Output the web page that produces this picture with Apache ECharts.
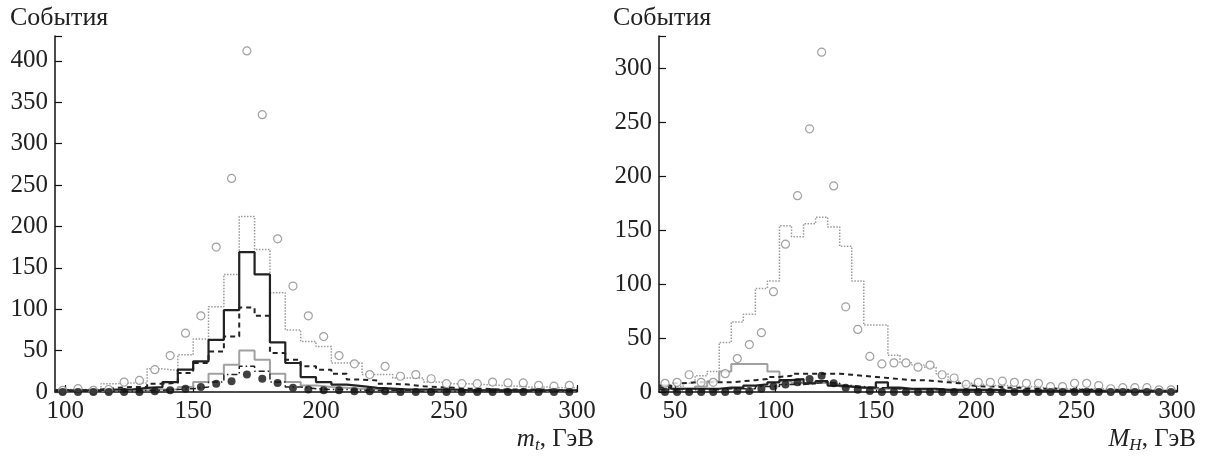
<!DOCTYPE html>
<html>
<head>
<meta charset="utf-8">
<script src="https://cdn.jsdelivr.net/npm/echarts@6/dist/echarts.min.js"></script>
<style>
  html, body { margin: 0; padding: 0; background: #fff; }
  #chart { width: 1205px; height: 456px; }
</style>
</head>
<body>
<div id="chart"></div>
<script>
// бины: левая панель m_t (96..300, шаг 6), правая M_H (42..300, шаг 6)
var binW = 6;
var leftStart = 96;
var rightStart = 42;
var xTicks = [100, 150, 200, 250, 300];
var xTicksRight = [50, 100, 150, 200, 250, 300];

// левая панель
var mtDotted = [3,3,3,10,11,11,28,26,45,64, 103,142,212,172,120,75,61,55,35,35, 21,21,17,17,12,10,10,9,8,7, 6,6,5,5];
var mtOpen   = [2,4,2,3,12,14,27,44,71,92, 175,258,412,335,185,128,92,67,44,34, 21,31,19,21,16,10,10,10,12,11, 11,8,7,8];
var mtSolid  = [2,2,2,3,3,5,6,12,27,37, 63,99,169,142,60,35,18,12,9,7, 5,4,3,3,3,3,2,2,2,2, 2,2,2,2];
var mtDashed = [2,2,3,5,6,6,10,11,23,35, 49,67,102,92,47,39,31,27,22,15, 14,10,9,7,6,5,4,4,3,3, 3,3,2,2];
var mtGray   = [1,1,1,2,2,2,3,3,6,12, 22,33,50,39,22,12,8,6,5,4, 3,3,3,2,2,2,2,2,2,2, 1,1,1,1];
var mtDashDot= [1,1,1,1,1,2,2,3,4,6, 12,21,31,25,12,6,4,3,3,2, 2,2,2,1,1,1,1,1,1,1, 1,1,1,1];
var mtFilled = [0,0,0,0,0,0,1,2,4,6, 10,13,21,16,11,5,3,2,2,1, 1,1,0,0,0,0,0,0,0,0, 0,0,0,0];

// правая панель
var mhDotted = [6,5,8,15,19,46,65,72,96,103, 154,144,156,162,153,135,103,62,62,34, 27,25,23,17,10,8,7,6,6,5, 5,4,4,3,3,3,3,2,2,2, 2,1,1];
var mhOpen   = [8,9,16,9,9,17,31,44,55,93, 137,182,244,315,191,79,58,33,26,27, 27,23,25,16,13,7,9,9,10,9, 8,8,5,5,8,8,6,3,4,4, 4,2,2];
var mhGray   = [3,3,3,5,10,19,26,26,26,19, 10,8,9,8,7,5,4,3,3,3, 2,2,2,2,2,2,1,1,1,1, 1,1,1,1,1,1,1,1,1,1, 1,1,1];
var mhDashed = [4,8,9,9,9,9,10,11,12,14, 15,17,17,17,17,16,15,14,13,12, 11,11,10,9,8,6,5,5,4,4, 3,3,3,2,2,2,2,2,2,1, 1,1,1];
var mhSolid  = [6,3,3,3,3,4,4,6,7,9, 11,12,8,10,6,5,4,4,9,4, 3,3,3,2,2,2,2,2,1,1, 1,1,1,1,1,1,1,1,1,1, 1,1,1];
var mhDashDot= [2,2,2,2,2,3,3,3,5,5, 7,7,8,9,8,6,5,4,4,3, 3,3,2,2,2,2,1,1,1,1, 1,1,1,1,1,1,1,1,1,1, 1,1,1];
var mhFilled = [0,0,0,0,0,0,1,1,3,5, 7,9,12,15,8,4,2,1,0,0, 0,0,0,0,0,0,0,0,0,0, 0,0,0,0,0,0,0,0,0,0, 0,0,0];

var font = '"Liberation Serif", "Times New Roman", serif';

// ступенчатая гистограмма: точки на границах бинов
function steps(start, vals) {
    var pts = vals.map(function (v, i) { return [start + i * binW, v]; });
    pts.push([start + vals.length * binW, vals[vals.length - 1]]);
    return pts;
}
// точки в центрах бинов
function centers(start, vals) {
    return vals.map(function (v, i) { return [start + binW / 2 + i * binW, v]; });
}

function xAxis(idx, min, ticks) {
    return {
        type: 'value', gridIndex: idx, min: min, max: 300,
        axisLine: { lineStyle: { color: '#111', width: 1.5 } },
        axisTick: { inside: true, length: 7, customValues: ticks, lineStyle: { color: '#111', width: 1.2 } },
        axisLabel: { customValues: ticks, color: '#222', fontFamily: font, fontSize: 25, margin: 7 },
        splitLine: { show: false }
    };
}
function yAxis(idx, max) {
    return {
        type: 'value', gridIndex: idx, min: 0, max: max, interval: 50,
        axisLine: { show: true, lineStyle: { color: '#111', width: 1.5 } },
        axisTick: { show: true, inside: true, length: 7, lineStyle: { color: '#111', width: 1.2 } },
        axisLabel: { color: '#222', fontFamily: font, fontSize: 25, margin: 7,
            formatter: function (v) { return v % 50 === 0 ? v : ''; } },
        splitLine: { show: false }
    };
}

function hist(idx, start, vals, color, width, type, z) {
    return {
        type: 'line', xAxisIndex: idx, yAxisIndex: idx, step: 'end',
        showSymbol: false, silent: true, z: z,
        lineStyle: { color: color, width: width, type: type },
        data: steps(start, vals)
    };
}
function marks(idx, start, vals, filled) {
    return {
        type: 'scatter', xAxisIndex: idx, yAxisIndex: idx, z: 10,
        symbol: 'circle', symbolSize: 8,
        itemStyle: filled ? { color: '#111' } : { color: '#fff', borderColor: '#8a8a8a', borderWidth: 1.2 },
        data: centers(start, vals)
    };
}

var titleStyle = { fontFamily: font, fontSize: 26, fontWeight: 'normal', color: '#222' };
var axisNameStyle = {
    fontFamily: font, fontSize: 25, fontWeight: 'normal', color: '#222',
    rich: {
        i: { fontFamily: font, fontSize: 25, fontStyle: 'italic', fontWeight: 'normal', color: '#222' },
        s: { fontFamily: font, fontSize: 17, fontStyle: 'italic', fontWeight: 'normal', color: '#222', padding: [12, 0, 0, 0] },
        n: { fontFamily: font, fontSize: 25, fontWeight: 'normal', color: '#222' }
    }
};

var myChart = echarts.init(document.getElementById('chart'));
option = {
    animation: false,
    backgroundColor: '#fff',
    title: [
        { text: 'События', left: 5, top: 0, padding: 5, textStyle: titleStyle },
        { text: 'События', left: 608, top: 0, padding: 5, textStyle: titleStyle },
        { text: '{i|m}{s|t}{n|, ГэВ}', right: 606, top: 420, textStyle: axisNameStyle },
        { text: '{i|M}{s|H}{n|, ГэВ}', right: 4, top: 420, textStyle: axisNameStyle }
    ],
    grid: [
        { left: 55, right: 628, top: 36, bottom: 64 },
        { left: 659, right: 28, top: 36, bottom: 64 }
    ],
    xAxis: [xAxis(0, leftStart, xTicks), xAxis(1, rightStart, xTicksRight)],
    yAxis: [yAxis(0, 430), yAxis(1, 330)],
    series: [
        hist(0, leftStart, mtDotted, '#9a9a9a', 1.5, 'dotted', 2),
        hist(0, leftStart, mtGray, '#a0a0a0', 2, 'solid', 3),
        hist(0, leftStart, mtDashDot, '#222', 1.5, [6, 3, 1.5, 3], 4),
        hist(0, leftStart, mtDashed, '#222', 2, [5, 4], 5),
        hist(0, leftStart, mtSolid, '#222', 2.2, 'solid', 6),
        marks(0, leftStart, mtOpen, false),
        marks(0, leftStart, mtFilled, true),

        hist(1, rightStart, mhDotted, '#9a9a9a', 1.5, 'dotted', 2),
        hist(1, rightStart, mhGray, '#a0a0a0', 2, 'solid', 3),
        hist(1, rightStart, mhDashDot, '#222', 1.5, [6, 3, 1.5, 3], 4),
        hist(1, rightStart, mhDashed, '#222', 2, [5, 4], 5),
        hist(1, rightStart, mhSolid, '#222', 2.2, 'solid', 6),
        marks(1, rightStart, mhOpen, false),
        marks(1, rightStart, mhFilled, true)
    ]
};
myChart.setOption(option);
</script>
</body>
</html>
